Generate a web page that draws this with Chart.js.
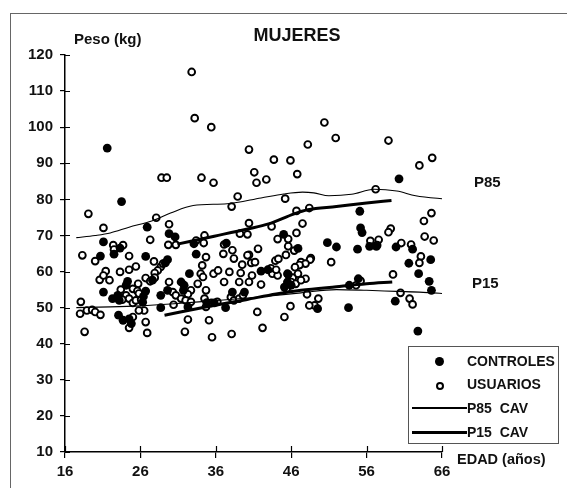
<!DOCTYPE html>
<html>
<head>
<meta charset="utf-8">
<script src="https://cdn.jsdelivr.net/npm/chart.js@4.4.1/dist/chart.umd.min.js"></script>
<style>
  body { margin: 0; background: #fff; }
  #wrap { position: relative; width: 567px; height: 488px; overflow: hidden;
          font-family: "Liberation Sans", Arial, sans-serif; font-weight: bold; color: #111; }
  #chart { position: absolute; left: 0; top: 0; }
  #frame { position: absolute; left: 10px; top: 13px; width: 600px; height: 500px;
           border-left: 1px solid #666; border-top: 1px solid #666; }
  .lbl { position: absolute; white-space: nowrap; line-height: 1; }
  #legend { position: absolute; left: 408px; top: 346px; width: 149px; height: 96px;
            border: 1px solid #555; background: #fff; }
  .row { position: absolute; left: 0; height: 20px; width: 149px; }
  .row .txt { position: absolute; left: 58px; top: 3px; font-size: 14px; line-height: 1; white-space: pre; }
  .mk { position: absolute; }
</style>
</head>
<body>
<div id="wrap">
  <div id="frame"></div>
  <canvas id="chart" width="567" height="488"></canvas>
  <div class="lbl" style="left:297px; top:26px; font-size:18px; transform:translateX(-50%);">MUJERES</div>
  <div class="lbl" style="left:74px; top:31px; font-size:15px;">Peso (kg)</div>
  <div class="lbl" style="left:457px; top:452px; font-size:14.5px;">EDAD (años)</div>
  <div class="lbl" style="left:474px; top:174px; font-size:15px;">P85</div>
  <div class="lbl" style="left:472px; top:275px; font-size:15px;">P15</div>
  <div id="legend"></div>
</div>
<script>
// ---- datos ----
const xTicks = [16, 26, 36, 46, 56, 66];
const yTicks = [10, 20, 30, 40, 50, 60, 70, 80, 90, 100, 110, 120];

// [edad, peso]
const controles = [
  [21.6,94.2],[23.5,79.4],[26.9,72.3],[29.8,70.5],[30.6,69.6],[45.0,70.3],[21.1,68.2],[33.1,67.7],
  [37.4,67.9],[50.8,68.0],[52.0,66.8],[54.8,66.2],[55.2,72.1],[55.4,70.8],[55.1,76.7],[56.4,67.0],
  [57.3,67.0],[59.9,66.8],[60.3,85.7],[62.1,66.2],[61.6,62.3],[64.5,63.3],[62.9,59.4],[64.3,57.3],
  [64.6,54.8],[59.8,51.8],[62.8,43.5],[53.6,50.0],[49.5,49.7],[53.7,56.2],[54.9,58.0],[42.0,60.1],
  [42.9,60.5],[46.9,66.4],[45.5,57.1],[46.0,56.2],[45.1,55.7],[45.6,59.2],[33.4,64.8],[32.5,59.4],
  [31.8,56.2],[31.7,54.8],[31.4,57.1],[32.3,50.2],[29.6,63.3],[29.3,62.4],[29.6,54.8],[28.7,53.4],
  [28.7,50.0],[27.6,57.6],[26.7,64.2],[26.7,54.6],[26.4,53.1],[26.3,51.5],[23.3,66.5],[22.5,64.8],
  [20.7,64.3],[21.1,54.3],[24.3,57.3],[24.1,56.2],[22.3,52.5],[23.0,53.4],[23.2,52.0],[23.1,47.9],
  [23.7,46.5],[24.5,46.9],[24.8,45.6],[35.8,51.3],[37.3,50.0],[38.2,54.3],[39.8,54.3],[34.8,51.4]
];

const usuarios = [
  [32.8,115.3],[33.2,102.5],[35.4,100.0],[40.4,93.8],[48.2,95.2],[50.4,101.3],[51.9,97.0],[58.9,96.3],
  [64.7,91.5],[63.0,89.4],[43.7,91.0],[45.9,90.8],[28.8,86.0],[29.5,86.0],[34.1,86.0],[35.7,84.6],
  [41.1,87.5],[41.4,84.6],[42.7,85.5],[46.8,87.0],[57.2,82.8],[38.9,80.8],[45.2,80.2],[38.1,78.0],
  [48.4,77.6],[46.7,76.8],[19.1,76.0],[28.1,74.9],[40.4,73.4],[43.4,72.5],[29.8,73.1],[47.5,73.3],
  [63.6,74.0],[64.6,76.2],[21.1,72.1],[59.2,71.9],[58.9,70.9],[39.2,70.5],[40.2,70.3],[34.5,70.0],
  [46.7,70.7],[33.4,68.6],[34.4,67.9],[27.3,68.8],[45.6,69.0],[44.2,69.0],[63.7,69.7],[64.9,68.6],
  [22.4,67.3],[23.7,67.3],[29.7,67.4],[30.7,67.4],[22.5,66.1],[56.5,68.5],[57.6,68.8],[57.4,67.3],
  [60.6,67.9],[61.9,67.5],[37.1,67.5],[38.2,65.9],[37.0,64.9],[38.4,63.6],[41.6,66.3],[40.4,64.6],
  [46.4,65.8],[45.6,67.0],[18.3,64.5],[24.5,64.3],[34.7,64.0],[40.2,64.5],[45.3,64.6],[20.0,62.9],
  [63.2,64.2],[63.0,62.4],[48.6,63.7],[51.3,62.6],[47.3,62.6],[48.5,63.3],[47.9,62.2],[28.7,61.3],
  [29.0,62.2],[27.8,62.8],[28.3,60.3],[27.9,59.6],[25.4,61.4],[24.5,60.5],[23.3,59.9],[21.4,60.1],
  [20.6,57.7],[21.1,58.9],[21.9,57.6],[26.7,58.2],[27.3,57.3],[27.9,58.3],[25.7,56.6],[25.0,55.2],
  [25.6,54.6],[23.4,55.0],[24.1,53.4],[23.6,52.2],[24.5,52.5],[25.0,51.3],[25.4,52.0],[26.1,52.2],
  [25.8,53.9],[29.8,57.1],[30.3,54.3],[30.7,53.4],[18.1,51.6],[18.0,48.3],[18.9,49.2],[19.6,49.4],
  [20.0,48.8],[20.7,48.0],[25.0,47.4],[24.5,44.4],[26.5,49.2],[25.8,49.2],[26.7,46.0],[26.9,43.0],
  [18.6,43.3],[39.5,61.9],[40.7,62.4],[41.2,62.6],[34.2,61.7],[34.0,59.4],[34.3,58.5],[33.6,56.6],
  [35.7,59.4],[36.3,60.3],[37.8,59.9],[37.1,57.1],[39.3,59.6],[39.1,57.1],[40.8,58.9],[40.4,57.1],
  [42.0,56.4],[43.5,59.4],[44.2,58.9],[45.5,59.4],[46.2,58.3],[46.0,57.1],[46.9,59.4],[46.6,56.6],
  [45.4,55.2],[43.3,60.9],[44.0,60.5],[43.9,63.0],[44.3,63.5],[47.1,61.8],[46.5,61.2],[34.7,54.8],
  [34.5,52.5],[32.7,54.8],[32.3,53.7],[31.4,52.5],[32.0,52.0],[32.7,51.6],[36.2,51.6],[38.0,52.9],
  [38.4,52.0],[39.1,52.5],[39.6,53.4],[34.7,50.2],[35.4,51.3],[30.4,50.8],[41.5,48.8],[45.9,50.4],
  [45.1,47.4],[32.3,46.7],[35.1,46.5],[42.2,44.4],[31.9,43.3],[35.5,41.8],[38.1,42.7],[47.9,58.0],
  [47.3,57.6],[55.2,57.4],[54.6,56.2],[59.5,59.2],[48.1,53.7],[49.6,52.5],[49.1,50.6],[48.4,50.6],
  [60.5,54.1],[61.7,52.5],[62.1,50.9]
];

// curvas de referencia (P85 / P15 CAV)
const p85Cav = [[17.5,69.4],[20,70.0],[22,70.7],[24.5,72.3],[27.5,74.0],[30,76.2],[33,78.3],[37.5,78.8],
  [42,80.4],[45,81.5],[47.5,82.0],[49,81.8],[51,81.0],[54,81.4],[57,82.8],[60,82.3],[62.5,81.0],[66.8,80.0]];
const p15Cav = [[17.5,50.0],[22,50.2],[26,50.5],[30,51.0],[35,51.8],[41,52.8],[47.3,54.1],[52,55.0],
  [56,54.8],[60,54.5],[63,54.3],[67,53.8]];

// líneas gruesas del estudio
const p85Est = [[30.9,67.6],[35.8,69.8],[40.2,71.8],[43,73.2],[46.4,76.0],[48.2,77.1],[52,78.0],[56,79.0],[59.3,79.7]];
const p15Est = [[29.2,47.9],[35,50.3],[40,52.2],[44,53.8],[47.3,54.8],[52,55.8],[56,56.6],[59.4,57.1]];

const pts = arr => arr.map(([x, y]) => ({ x, y }));

// ticks hacia dentro del área (el original cruza los ejes)
const innerTicks = {
  id: 'innerTicks',
  afterDraw(chart) {
    const { ctx, chartArea, scales } = chart;
    ctx.save();
    ctx.strokeStyle = '#000';
    ctx.lineWidth = 1.2;
    ctx.beginPath();
    scales.y.ticks.forEach(t => {
      const py = Math.round(scales.y.getPixelForValue(t.value)) + 0.5;
      ctx.moveTo(chartArea.left, py);
      ctx.lineTo(chartArea.left + 5, py);
    });
    scales.x.ticks.forEach(t => {
      const px = Math.round(scales.x.getPixelForValue(t.value)) + 0.5;
      ctx.moveTo(px, chartArea.bottom);
      ctx.lineTo(px, chartArea.bottom - 6);
    });
    ctx.stroke();
    ctx.restore();
  }
};

const lineDs = (label, data, width, tension) => ({
  label, data: pts(data), showLine: true, pointRadius: 0, borderColor: '#000',
  borderWidth: width, tension, cubicInterpolationMode: 'monotone', fill: false, order: 0
});

const chart = new Chart(document.getElementById('chart'), {
  type: 'scatter',
  data: {
    datasets: [
      { label: 'CONTROLES', data: pts(controles), pointRadius: 4.4, backgroundColor: '#000',
        borderColor: '#000', borderWidth: 0, order: 1 },
      { label: 'USUARIOS', data: pts(usuarios), pointRadius: 3.4, backgroundColor: '#fff',
        borderColor: '#000', borderWidth: 1.9, order: 2 },
      lineDs('P85  CAV', p85Cav, 1.1, 0.4),
      lineDs('P15  CAV', p15Cav, 1.1, 0.4),
      lineDs('p85 estudio', p85Est, 3, 0.2),
      lineDs('p15 estudio', p15Est, 3, 0.2)
    ]
  },
  options: {
    responsive: false,
    animation: false,
    events: [],
    layout: { padding: { top: 55, right: 125, left: 0, bottom: 0 } },
    plugins: { legend: { display: false }, tooltip: { enabled: false } },
    scales: {
      x: {
        type: 'linear', min: 16, max: 66,
        afterBuildTicks: s => { s.ticks = xTicks.map(v => ({ value: v })); },
        afterFit: s => { s.height = 36; },
        grid: { drawOnChartArea: false, color: '#000', tickLength: 6, lineWidth: 1.2 },
        border: { display: true, color: '#000', width: 1.5 },
        ticks: { color: '#111', padding: 5, font: { family: 'Liberation Sans', size: 15, weight: 'bold' } }
      },
      y: {
        type: 'linear', min: 10, max: 120,
        afterBuildTicks: s => { s.ticks = yTicks.map(v => ({ value: v })); },
        afterFit: s => { s.width = 65; },
        grid: { drawOnChartArea: false, color: '#000', tickLength: 5, lineWidth: 1.2 },
        border: { display: true, color: '#000', width: 1.5 },
        ticks: { color: '#111', padding: 7, font: { family: 'Liberation Sans', size: 15, weight: 'bold' } }
      }
    }
  },
  plugins: [innerTicks]
});

// leyenda en HTML (a partir de los datasets)
const legend = document.getElementById('legend');
const rowsTop = [4, 27, 51, 75];
chart.data.datasets.slice(0, 4).forEach((ds, i) => {
  const row = document.createElement('div');
  row.className = 'row';
  row.style.top = rowsTop[i] + 'px';
  const mk = document.createElement('span');
  mk.className = 'mk';
  if (i === 0) {
    mk.style.cssText = 'left:26px;top:6px;width:9px;height:9px;border-radius:50%;background:#000;';
  } else if (i === 1) {
    mk.style.cssText = 'left:27px;top:8px;width:4px;height:4px;border-radius:50%;border:2px solid #000;';
  } else {
    const h = i === 2 ? 2 : 3;
    mk.style.cssText = 'left:3px;top:' + (10 - h / 2) + 'px;width:55px;height:' + h + 'px;background:#000;';
  }
  const txt = document.createElement('span');
  txt.className = 'txt';
  txt.textContent = ds.label;
  row.appendChild(mk);
  row.appendChild(txt);
  legend.appendChild(row);
});
</script>
</body>
</html>
